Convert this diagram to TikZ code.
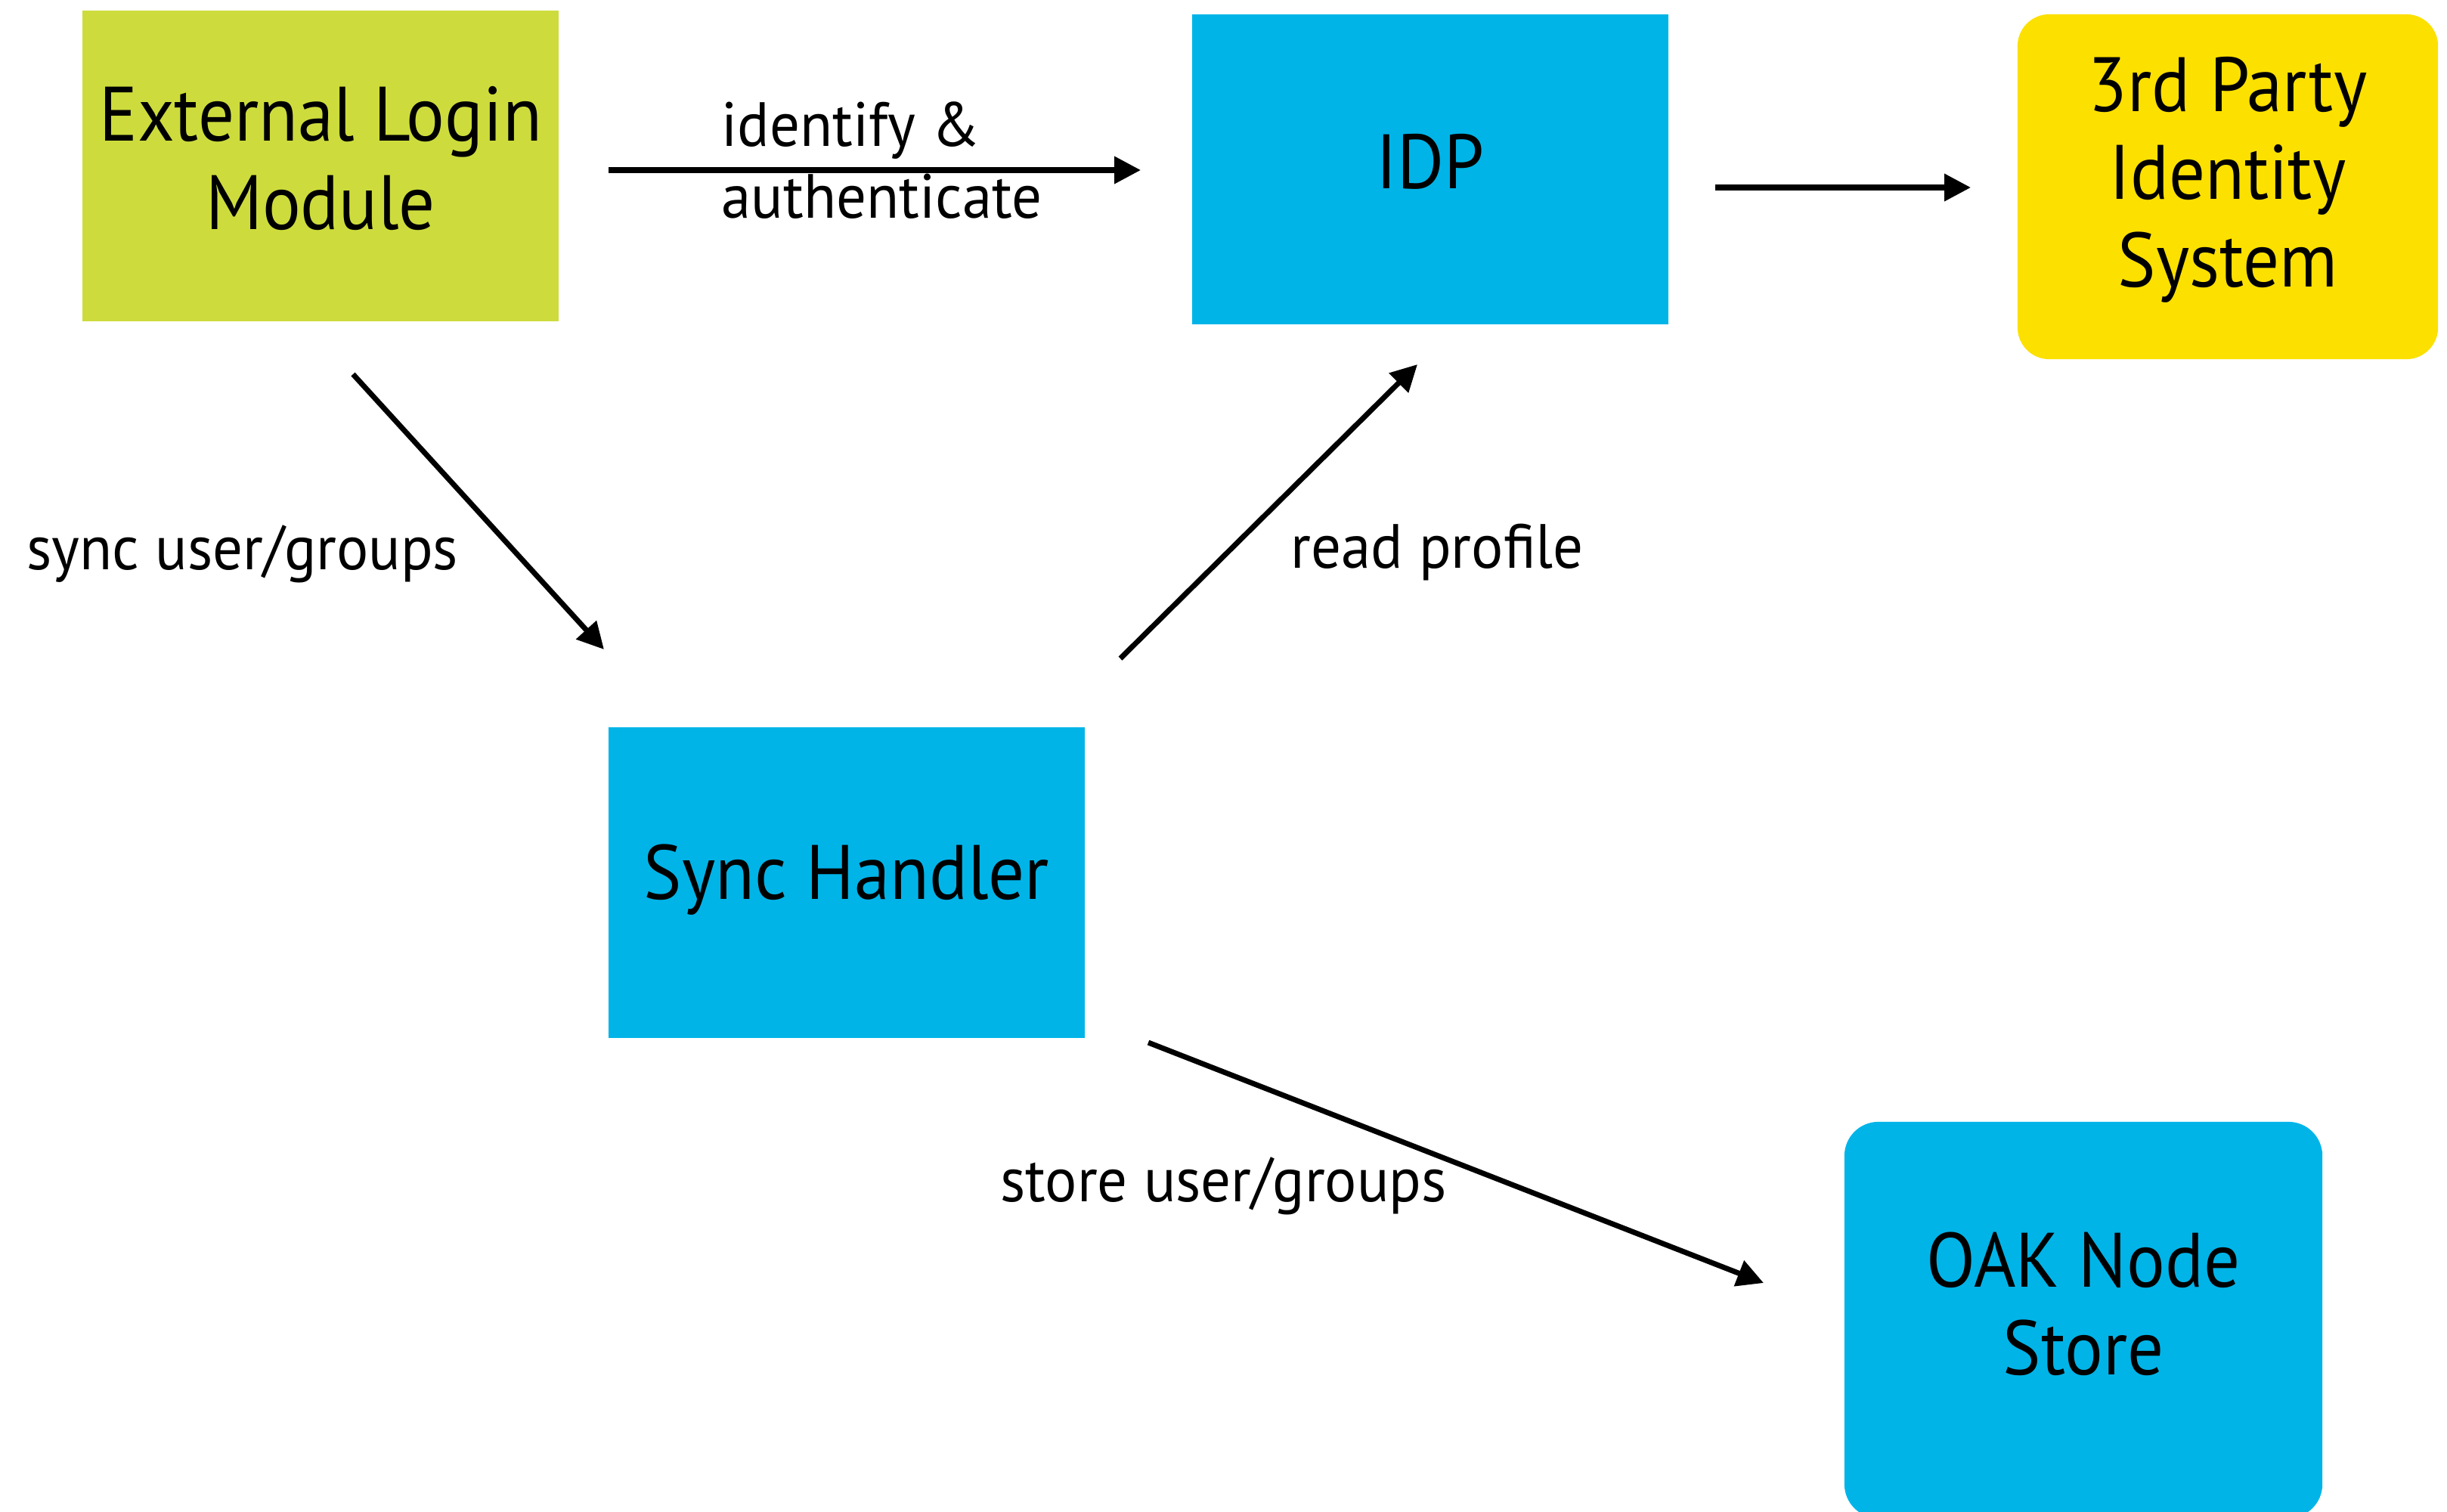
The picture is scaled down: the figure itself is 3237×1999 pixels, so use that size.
\documentclass[tikz,border=0pt]{standalone}
\usepackage{fontspec}
\setmainfont[FakeStretch=0.93]{PT Sans}
\newfontfamily\lblfont[FakeStretch=0.955]{PT Sans}
\usetikzlibrary{arrows.meta}
\definecolor{elmgreen}{HTML}{CDDC3C}
\definecolor{boxcyan}{HTML}{00B4E8}
\definecolor{boxyellow}{HTML}{FCE000}
\tikzset{
  box/.style={draw=none, rectangle, inner sep=0pt},
  boxtext/.style={inner sep=0pt, align=center, font=\fontsize{29}{33}\selectfont},
  lbl/.style={inner sep=0pt, align=left, font=\lblfont\fontsize{23.5}{27}\selectfont},
  conn/.style={line width=2pt, -{Triangle[length=0.35cm,width=0.35cm]}}
}
\begin{document}
\begin{tikzpicture}[x=0.01cm,y=-0.01cm]
\useasboundingbox (0,0) rectangle (3237,1999);
\clip (0,0) rectangle (3237,1999);
% nodes
\node[box, fill=elmgreen, minimum width=6.30cm, minimum height=4.11cm,
  label={[boxtext, name=elmtext, yshift=0.10cm]center:External Login\\Module}] (elm) at (424,219.5) {};
\node[box, fill=boxcyan, minimum width=6.30cm, minimum height=4.10cm,
  label={[boxtext, name=idptext, yshift=0.10cm]center:IDP}] (idp) at (1892,224) {};
\node[box, fill=boxyellow, rounded corners=0.42cm, minimum width=5.56cm, minimum height=4.56cm,
  label={[boxtext, name=tpstext, yshift=0.09cm]center:3rd Party\\Identity\\System}] (tps) at (2947,247) {};
\node[box, fill=boxcyan, minimum width=6.30cm, minimum height=4.11cm,
  label={[boxtext, name=synctext, yshift=0.04cm]center:Sync Handler}] (sync) at (1120,1167.5) {};
\node[box, fill=boxcyan, rounded corners=0.45cm, minimum width=6.32cm, minimum height=5.24cm,
  label={[boxtext, name=oaktext, yshift=0.21cm]center:OAK Node\\Store}] (oak) at (2756,1746) {};
% connector end points
\coordinate (c1s) at (805,225);  \coordinate (c1e) at (1509,225);
\coordinate (c2s) at (2269,248); \coordinate (c2e) at (2607,248);
\coordinate (c3s) at (467,495);  \coordinate (c3e) at (799,859);
\coordinate (c4s) at (1482,871); \coordinate (c4e) at (1875,482);
\coordinate (c5s) at (1519,1379);\coordinate (c5e) at (2333,1697);
% connectors
\draw[conn] (c1s) -- (c1e);
\draw[conn] (c2s) -- (c2e);
\draw[conn] (c3s) -- (c3e);
\draw[conn] (c4s) -- (c4e);
\draw[conn] (c5s) -- (c5e);
% labels
\node[lbl, anchor=west] (l1) at (954,212) {identify \&\\authenticate};
\node[lbl, anchor=west] (l2) at (35,733) {sync user/groups};
\node[lbl, anchor=west] (l3) at (1707,731) {read profile};
\node[lbl, anchor=west] (l4) at (1323,1569) {store user/groups};
\end{tikzpicture}
\end{document}
